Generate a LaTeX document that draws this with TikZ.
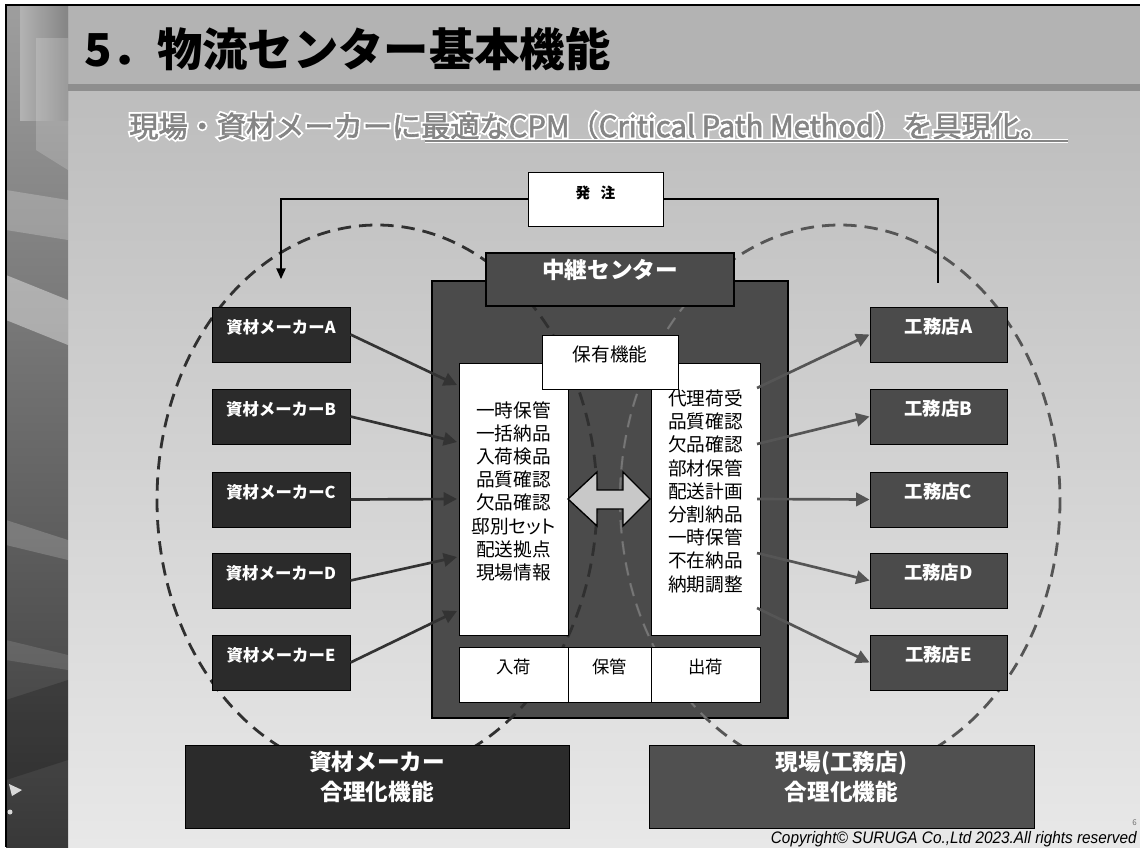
\documentclass[tikz,border=0pt]{standalone}
\usepackage{fontspec}
\usepackage{graphicx}
\setmainfont{Noto Sans CJK JP}
\newfontfamily\subwfont[FakeBold=14]{Noto Sans CJK JP}
\newfontfamily\subgfont[FakeBold=2]{Noto Sans CJK JP}
\newfontfamily\cpfont[FakeStretch=0.92]{Liberation Sans}
\usetikzlibrary{arrows.meta,fit}
\newcommand\myfs[2]{\fontsize{#1}{#2}\selectfont}
\newcommand\subtext[1]{\resizebox{690pt}{!}{#1\myfs{21pt}{21pt}現場・資材メーカーに最適なCPM（Critical Path Method）を具現化。}}
\definecolor{bgtop}{HTML}{BDBDBD}
\definecolor{bgbot}{HTML}{E8E8E8}
\definecolor{bandc}{HTML}{B3B3B3}
\definecolor{sepc}{HTML}{8E8E8E}
\definecolor{subg}{HTML}{858585}
\definecolor{darkc}{HTML}{2B2B2B}
\definecolor{midc}{HTML}{4B4B4B}
\definecolor{botr}{HTML}{505050}
\definecolor{arrl}{HTML}{333333}
\definecolor{arrr}{HTML}{555555}
\definecolor{dashl}{HTML}{303030}
\definecolor{dashr}{HTML}{555555}
\definecolor{dashin}{HTML}{767676}
\definecolor{dblc}{HTML}{C8C8C8}
\begin{document}
\begin{tikzpicture}[x=0.75pt,y=-0.75pt,
  box/.style={draw=black, line width=0.7pt, inner sep=0pt},
  wbox/.style={box, fill=white, text=black},
  sidel/.style={box, fill=darkc, text=white, font=\myfs{12.3pt}{12.3pt}\bfseries},
  sider/.style={box, fill=midc, text=white, font=\myfs{13.8pt}{13.8pt}\bfseries},
  listtxt/.style={align=center, font=\myfs{14pt}{17.4pt}},
  larr/.style={draw=arrl, line width=2pt, -{Triangle[length=10pt,width=10pt]}},
  rarr/.style={draw=arrr, line width=2pt, -{Triangle[length=10pt,width=10pt]}},
  ellL/.style={draw=dashl, line width=2.1pt, dash pattern=on 10pt off 6pt},
  ellR/.style={draw=dashr, line width=2.1pt, dash pattern=on 10pt off 6pt},
  ordl/.style={draw=black, line width=1pt}
]
\useasboundingbox (0,0) rectangle (1140,847);
\fill[white] (0,0) rectangle (1140,847);
% background
\shade[top color=bgtop, bottom color=bgbot] (68,91) rectangle (1140,847);
\fill[bandc] (68,5) rectangle (1140,84);
\fill[sepc] (68,84) rectangle (1140,91);
% left strip
\shade[top color=black!38, middle color=black!28, bottom color=black!78] (6,5) rectangle (68,847);
\shade[left color=black!30, right color=black!48] (20,5) rectangle (68,120);
\fill[white, opacity=0.18] (36,38) -- (68,38) -- (68,170) -- (36,150) -- cycle;
\fill[white, opacity=0.4] (6,275) -- (68,300) -- (68,345) -- (6,320) -- cycle;
\fill[white, opacity=0.22] (6,190) -- (68,200) -- (68,240) -- (6,230) -- cycle;
\fill[white, opacity=0.18] (6,520) -- (68,540) -- (68,560) -- (6,545) -- cycle;
\fill[white, opacity=0.12] (6,640) -- (68,655) -- (68,670) -- (6,660) -- cycle;
\fill[black, opacity=0.2] (6,700) -- (68,680) -- (68,760) -- (6,780) -- cycle;
\fill[white, opacity=0.8] (9,784) -- (22,790) -- (12,796) -- cycle;
\fill[white, opacity=0.8] (10,812) circle [radius=2.5];
\draw[black, line width=1pt] (6,847) -- (6,5) -- (1140,5);
% title
\node[anchor=west, inner sep=0pt] (title) at (84,49) {\myfs{34pt}{34pt}\bfseries 5．物流センター基本機能};
% subtitle (outlined)
\node[anchor=west, inner sep=0pt, text=white] (subw) at (129,126) {\subtext{\subwfont}};
\node[anchor=west, inner sep=0pt, text=subg] (sub) at (129,126) {\subtext{\subgfont}};
\coordinate (ulA) at (425,141);
\coordinate (ulB) at (1068,141);
\draw[white, line width=3.2pt] (ulA) -- (ulB);
\draw[subg, line width=1.8pt] (ulA) -- (ulB);
% central dark box
\node[box, fill=midc, line width=1.2pt, fit={(432,281) (788,718)}] (center) {};
% ellipses
\draw[ellR] (840,500) ellipse [x radius=220, y radius=275];
\begin{scope}
  \clip (433,307) rectangle (787,717);
  \draw[draw=dashin, line width=1.4pt, dash pattern=on 10pt off 6pt] (840,500) ellipse [x radius=220, y radius=275];
\end{scope}
\draw[ellL] (377,500) ellipse [x radius=220, y radius=275];
% header
\node[box, fill=midc, line width=1.2pt, text=white, font=\myfs{17pt}{17pt}\bfseries, fit={(486,253) (734,306)}] (hdr) {中継センター};
% lists
\node[wbox, listtxt, fit={(459,363) (568,635)}] (LL) {一時保管\\一括納品\\入荷検品\\品質確認\\欠品確認\\邸別{\addfontfeature{RawFeature=+palt}セット}\\配送拠点\\現場情報};
\node[wbox, listtxt, fit={(651,363) (760,635)}] (RL) {代理荷受\\品質確認\\欠品確認\\部材保管\\配送計画\\分割納品\\一時保管\\不在納品\\納期調整};
\node[wbox, font=\myfs{14pt}{14pt}, fit={(542,335) (678,389)}] (hold) {保有機能};
\node[wbox, font=\myfs{13pt}{13pt}, fit={(459,647) (568,702)}] (BI) {入荷};
\node[wbox, font=\myfs{13pt}{13pt}, fit={(568,647) (651,702)}] (BH) {保管};
\node[wbox, font=\myfs{13pt}{13pt}, fit={(651,647) (760,702)}] (BO) {出荷};
% double arrow
\fill[dblc, draw=black, line width=1pt, line join=miter]
  (568,499) -- (597,472) -- (597,490) -- (623,490) -- (623,472) -- (650,499)
  -- (623,526) -- (623,509) -- (597,509) -- (597,526) -- cycle;
% side boxes
\node[sidel, fit={(212,307) (350,362)}] (mA) {資材メーカーA};
\node[sidel, fit={(212,389) (350,444)}] (mB) {資材メーカーB};
\node[sidel, fit={(212,472) (350,527)}] (mC) {資材メーカーC};
\node[sidel, fit={(212,553) (350,608)}] (mD) {資材メーカーD};
\node[sidel, fit={(212,635) (350,690)}] (mE) {資材メーカーE};
\node[sider, fit={(870,307) (1007,362)}] (kA) {工務店A};
\node[sider, fit={(870,389) (1007,444)}] (kB) {工務店B};
\node[sider, fit={(870,472) (1007,527)}] (kC) {工務店C};
\node[sider, fit={(870,553) (1007,608)}] (kD) {工務店D};
\node[sider, fit={(870,635) (1007,690)}] (kE) {工務店E};
% bottom boxes
\node[box, fill=darkc, text=white, align=center, font=\myfs{17pt}{22.5pt}\bfseries, fit={(185,745) (569,828)}] (botL) {資材メーカー\\合理化機能};
\node[box, fill=botr, text=white, align=center, font=\myfs{17pt}{22.5pt}\bfseries, fit={(649,745) (1034,828)}] (botR) {現場(工務店)\\合理化機能};
% order box and lines
\node[wbox, font=\myfs{11pt}{11pt}\bfseries, fit={(528,172) (663,226)}] (order) {発\hspace{0.7em}注};
\coordinate (oL) at (281,279);
\coordinate (oR) at (938,283);
\draw[ordl, -{Triangle[length=8pt,width=7pt]}] (order.west) -| (oL);
\draw[ordl] (order.east) -| (oR);
% arrows in
\coordinate (iA) at (457,385);
\coordinate (iB) at (457,442);
\coordinate (iC) at (457,499);
\coordinate (iD) at (457,557);
\coordinate (iE) at (457,611);
\draw[larr] (mA.east) -- (iA);
\draw[larr] (mB.east) -- (iB);
\draw[larr] (mC.east) -- (iC);
\draw[larr] (mD.east) -- (iD);
\draw[larr] (mE.east) -- (iE);
% arrows out
\coordinate (sA) at (757,388);
\coordinate (sB) at (757,444);
\coordinate (sC) at (757,499);
\coordinate (sD) at (757,553);
\coordinate (sE) at (757,608);
\draw[rarr] (sA) -- (kA.west);
\draw[rarr] (sB) -- (kB.west);
\draw[rarr] (sC) -- (kC.west);
\draw[rarr] (sD) -- (kD.west);
\draw[rarr] (sE) -- (kE.west);
% footer
\node[anchor=east, inner sep=0pt, text=black!55, font=\myfs{6pt}{6pt}] (pg) at (1137,823) {6};
\node[anchor=east, inner sep=0pt, font=\cpfont\itshape\myfs{12.5pt}{12.5pt}] (copy) at (1137,839) {Copyright© SURUGA Co.,Ltd 2023.All rights reserved};
\end{tikzpicture}
\end{document}
